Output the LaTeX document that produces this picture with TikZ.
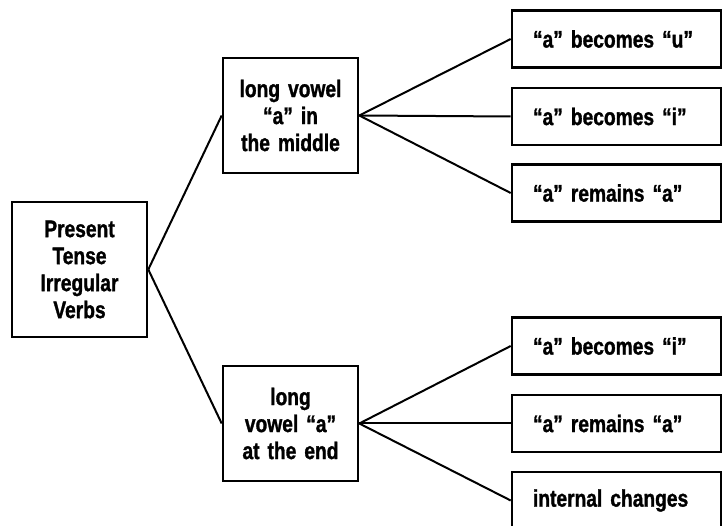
\documentclass[tikz,border=0pt]{standalone}
\usepackage{fontspec}
\setmainfont[FakeStretch=0.8,WordSpace=0.75,BoldFeatures={FakeBold=1.2}]{Liberation Sans}
\begin{document}
\begin{tikzpicture}[x=1pt,y=-1pt,
  every node/.style={font=\bfseries\fontsize{24}{27}\selectfont},
  box/.style={draw,line width=2.6pt,inner sep=0pt,align=center,text width=#1},
  leaf/.style={draw,line width=2.6pt,minimum width=209pt,minimum height=57pt,
    inner xsep=21pt,inner ysep=0pt,text width=167pt,align=left},
  link/.style={line width=2pt}]
\useasboundingbox (0,0) rectangle (723,526);
% root and the two branch boxes
\node[box=135pt,minimum height=135pt] (root) at (79.5,269.5) {Present\\Tense\\Irregular\\Verbs};
\node[box=135pt,minimum height=115pt] (mid) at (290.5,115.5) {long vowel\\“a” in\\the middle};
\node[box=135pt,minimum height=115pt] (end) at (290.5,423.5) {long\\vowel “a”\\at the end};
% leaves
\node[leaf] (m1) at (616.5,39) {“a” becomes “u”};
\node[leaf] (m2) at (616.5,116.5) {“a” becomes “i”};
\node[leaf] (m3) at (616.5,193) {“a” remains “a”};
\node[leaf] (e1) at (616.5,346) {“a” becomes “i”};
\node[leaf] (e2) at (616.5,423.5) {“a” remains “a”};
\node[leaf] (e3) at (616.5,500.5) {internal changes};
% connectors
\draw[link] (root.east) -- (mid.west);
\draw[link] (root.east) -- (end.west);
\foreach \t in {m1,m2,m3} \draw[link] (mid.east) -- (\t.west);
\foreach \t in {e1,e2,e3} \draw[link] (end.east) -- (\t.west);
\end{tikzpicture}
\end{document}
